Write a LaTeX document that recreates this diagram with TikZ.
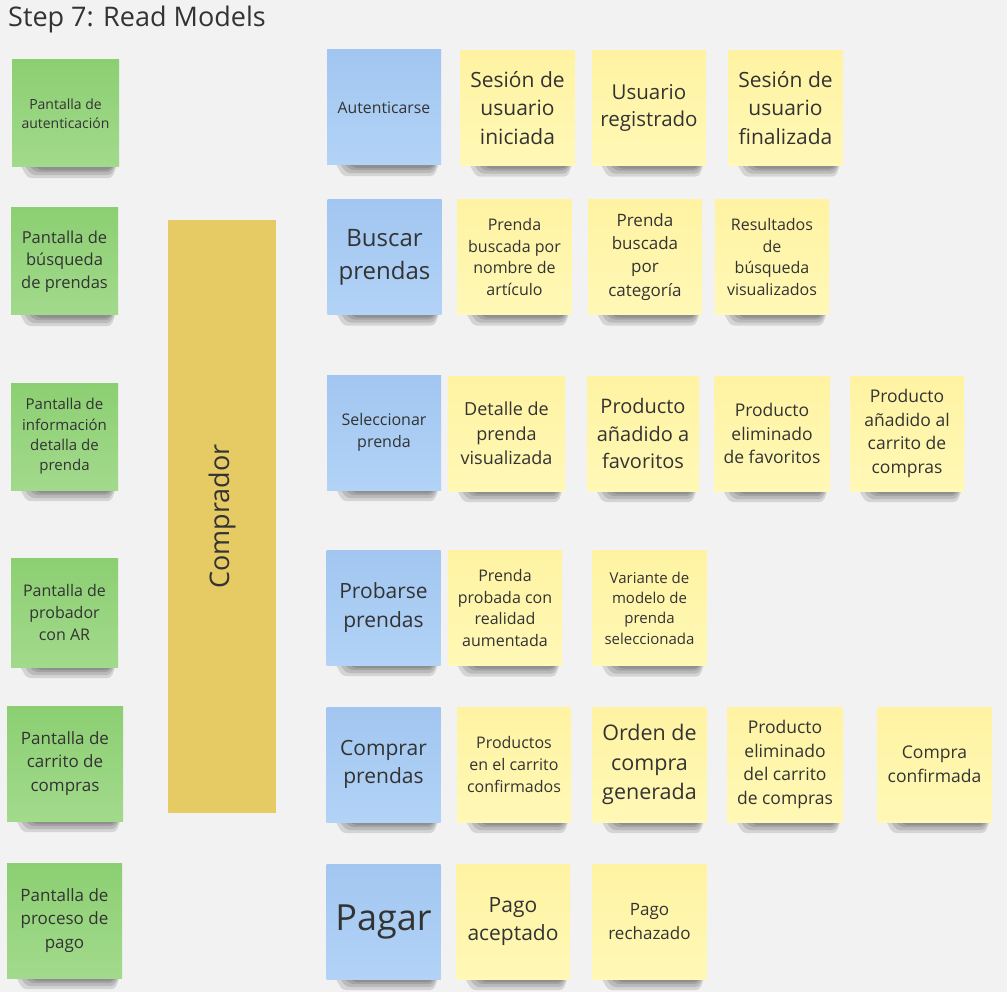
\documentclass[tikz,border=0pt]{standalone}
\usepackage{fontspec}
\setmainfont{Open Sans}
\usetikzlibrary{calc}

\definecolor{bgcol}{HTML}{F2F2F2}
\definecolor{ink}{HTML}{333333}
\definecolor{scrTop}{HTML}{8CCF72}
\definecolor{scrBot}{HTML}{A2DA8C}
\definecolor{cmdTop}{HTML}{A2C6F1}
\definecolor{cmdBot}{HTML}{B2D3F6}
\definecolor{evtTop}{HTML}{FFF3A2}
\definecolor{evtBot}{HTML}{FFF8B6}
\definecolor{actor}{HTML}{E6CA63}

\pgfdeclarelayer{paper}
\pgfdeclarelayer{shade}
\pgfsetlayers{paper,shade,main}

\begin{document}
\begin{tikzpicture}[x=1pt, y=-1pt,
  fs/.style     = {font=\pgfmathsetmacro\lsk{#1*1.36}\fontsize{#1pt}{\lsk pt}\selectfont},
  note/.style   = {minimum width=114pt, minimum height=115pt, inner sep=2pt,
                   align=center, text=ink},
  screen/.style = {note, minimum width=107pt, minimum height=107pt,
                   top color=scrTop, bottom color=scrBot},
  cmd/.style    = {note, top color=cmdTop, bottom color=cmdBot},
  evt/.style    = {note, top color=evtTop, bottom color=evtBot},
  lane/.style   = {fill=actor, minimum width=108pt, minimum height=593pt,
                   text=ink, fs=27},
  blur/.style   = {fill=black, opacity=0.12, rounded corners=4pt},
]

\useasboundingbox (0,0) rectangle (1007,992);
\begin{pgfonlayer}{paper}
  \fill[bgcol] (0,0) rectangle (1007,992);
\end{pgfonlayer}

% ---- title ------------------------------------------------------------------
\node[anchor=base west, text=ink, fs=27, inner sep=0pt] (title) at (8,27) {Step 7: Read Models};

% ---- screens ----------------------------------------------------------------
\node[screen, fs=14]   (sAuth)   at (65.5,113.5) {Pantalla de\\autenticación};
\node[screen, fs=16.5] (sSearch) at (64.5,261.5) {Pantalla de\\búsqueda\\de prendas};
\node[screen, fs=15]   (sInfo)   at (64.5,436.5) {Pantalla de\\información\\detalla de\\prenda};
\node[screen, fs=16, minimum height=109pt] (sTry) at (64.5,612.5) {Pantalla de\\probador\\con AR};
\node[screen, fs=17, minimum width=116pt, minimum height=115pt] (sCart) at (65,763.5) {Pantalla de\\carrito de\\compras};
\node[screen, fs=17, minimum width=115pt, minimum height=115pt] (sPay)  at (64.5,920.5) {Pantalla de\\proceso de\\pago};

% ---- actor ------------------------------------------------------------------
\node[lane] (buyer) at (222,516.5) {\rotatebox{90}{Comprador}};

% ---- commands ---------------------------------------------------------------
\node[cmd, fs=15.8] (cAuth)   at (384,107.5)   {Autenticarse};
\node[cmd, fs=24]   (cSearch) at (384.5,257)   {Buscar\\prendas};
\node[cmd, fs=16]   (cSelect) at (384,432.5)   {Seleccionar\\prenda};
\node[cmd, fs=21]   (cTry)    at (383.5,607.5) {Probarse\\prendas};
\node[cmd, fs=21]   (cBuy)    at (383.5,764.5) {Comprar\\prendas};
\node[cmd, fs=36]   (cPay)    at (383.5,921.5) {Pagar};

% ---- events: authentication -------------------------------------------------
\node[evt, fs=21]   (eLogin)  at (517.5,108) {Sesión de\\usuario\\iniciada};
\node[evt, fs=20.5] (eReg)    at (649,108)   {Usuario\\registrado};
\node[evt, fs=21]   (eLogout) at (785.5,108) {Sesión de\\usuario\\finalizada};

% ---- events: search ---------------------------------------------------------
\node[evt, fs=16]   (eByName)  at (514.5,257) {Prenda\\buscada por\\nombre de\\artículo};
\node[evt, fs=17]   (eByCat)   at (645,257)   {Prenda\\buscada\\por\\categoría};
\node[evt, fs=16]   (eResults) at (772,257)   {Resultados\\de\\búsqueda\\visualizados};

% ---- events: selection ------------------------------------------------------
\node[evt, fs=18,   minimum width=117pt] (eDetail)  at (506.5,433.5) {Detalle de\\prenda\\visualizada};
\node[evt, fs=20,   minimum width=112pt] (eFavAdd)  at (643,433.5)   {Producto\\añadido a\\favoritos};
\node[evt, fs=17.5, minimum width=116pt] (eFavDel)  at (772,433.5)   {Producto\\eliminado\\de favoritos};
\node[evt, fs=17.5] (eCartAdd) at (907,433.5) {Producto\\añadido al\\carrito de\\compras};

% ---- events: fitting room ---------------------------------------------------
\node[evt, fs=16]   (eTried)   at (505,608)   {Prenda\\probada con\\realidad\\aumentada};
\node[evt, fs=15]   (eVariant) at (649.5,608) {Variante de\\modelo de\\prenda\\seleccionada};

% ---- events: checkout -------------------------------------------------------
\node[evt, fs=16]   (eConfirmed) at (514,764.5)   {Productos\\en el carrito\\confirmados};
\node[evt, fs=21.5] (eOrder)     at (649.5,764.5) {Orden de\\compra\\generada};
\node[evt, fs=17.5, minimum width=116pt] (eCartDel) at (785,764.5) {Producto\\eliminado\\del carrito\\de compras};
\node[evt, fs=17.5, minimum width=115pt] (ePurchase) at (934.5,764.5) {Compra\\confirmada};

% ---- events: payment --------------------------------------------------------
\node[evt, fs=21]   (ePayOk) at (513,921.5)   {Pago\\aceptado};
\node[evt, fs=17]   (ePayKo) at (649.5,921.5) {Pago\\rechazado};

% ---- sticky-note shadows ----------------------------------------------------
\begin{pgfonlayer}{shade}
\foreach \n in {sAuth,sSearch,sInfo,sTry,sCart,sPay,
                cAuth,cSearch,cSelect,cTry,cBuy,cPay,
                eLogin,eReg,eLogout,eByName,eByCat,eResults,
                eDetail,eFavAdd,eFavDel,eCartAdd,eTried,eVariant,
                eConfirmed,eOrder,eCartDel,ePurchase,ePayOk,ePayKo}
  \foreach \d/\i in {11/8, 8/12, 5/16, 3/20}
    \fill[blur] ($(\n.south west)+(\i,-3)$) -- ($(\n.south east)+(-\i/4,-3)$)
      -- ($(\n.south east)+(-\i/4-5,\d)$) -- ($(\n.south west)+(\i+8,\d)$) -- cycle;
\end{pgfonlayer}

\end{tikzpicture}
\end{document}
